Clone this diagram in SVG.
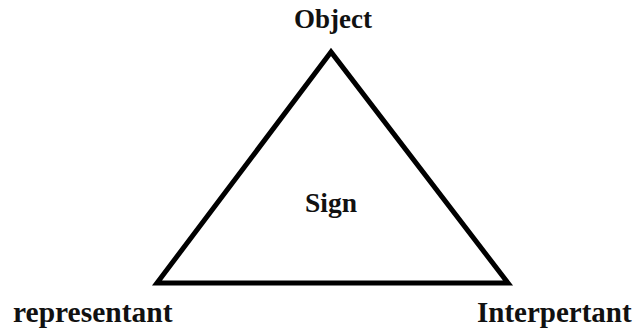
<svg xmlns="http://www.w3.org/2000/svg" width="637" height="330" viewBox="0 0 637 330">
<style>
text{font-family:"Liberation Serif","Times New Roman",serif;font-weight:bold;fill:#111;}
.edge{fill:none;stroke:#000;stroke-width:5;stroke-linejoin:miter;}
</style>
<rect width="637" height="330" fill="#fff"/>
<g id="connectors">
<polygon class="edge" points="331,52 157,283 508,283"/>
</g>
<g id="object"><text x="333" y="28" font-size="27" text-anchor="middle">Object</text></g>
<g id="sign"><text x="331" y="212" font-size="27.5" text-anchor="middle">Sign</text></g>
<g id="representant"><text x="13" y="322" font-size="29.5">representant</text></g>
<g id="interpertant"><text x="477" y="322" font-size="29">Interpertant</text></g>
</svg>
